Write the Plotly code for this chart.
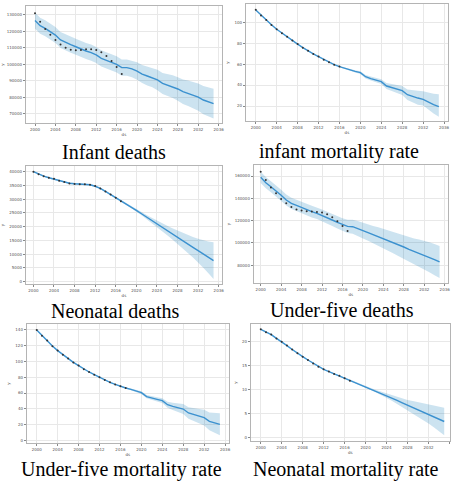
import plotly.graph_objects as go

# ---- data -------------------------------------------------------------
years = list(range(2000, 2036))
obs_years = list(range(2000, 2018))

infant_deaths_yhat = [126600, 123500, 121900, 119900, 117800, 114800, 113200, 112000, 110700, 109300,
                      108100, 107100, 105700, 103600, 102600, 101200, 100000, 98000, 98000, 97200,
                      95900, 94100, 92900, 91900, 90500, 88400, 87400, 86400, 85000, 83400,
                      82400, 81400, 80100, 78300, 77100, 76100]
infant_deaths_upper = [131500, 128400, 126800, 124800, 122700, 119700, 118100, 116900, 115600, 114200,
                       113000, 112000, 110600, 108500, 107500, 106100, 104900, 102900, 103000, 102300,
                       101200, 99600, 98600, 97800, 96700, 94800, 94100, 93300, 92200, 90800,
                       90200, 89400, 88400, 86800, 85900, 85100]
infant_deaths_lower = [121700, 118600, 117000, 115000, 112900, 109900, 108300, 107100, 105800, 104400,
                       103200, 102200, 100800, 98700, 97700, 96300, 95100, 93100, 93000, 92100,
                       90600, 88600, 87200, 86000, 84300, 82000, 80700, 79500, 77800, 75900,
                       74600, 73300, 71800, 69700, 68300, 67100]
infant_deaths_obs = [131000, 125900, 121500, 118000, 114800, 112000, 110100, 108900, 108500, 108700,
                     109100, 109100, 108700, 107300, 105100, 102000, 98400, 94100]

imr_yhat = [111.8, 106.8, 102.2, 97.6, 93.3, 89.6, 86.2, 82.6, 79.2, 75.8,
            72.6, 69.8, 67.2, 64.4, 61.8, 59.6, 57.6, 55.9, 54.4, 53.1,
            51.9, 48.0, 46.2, 44.7, 43.3, 39.1, 37.4, 36.0, 34.7, 30.8,
            29.0, 27.6, 26.3, 23.4, 21.3, 19.4]
imr_upper = [112.2, 107.2, 102.6, 98.0, 93.7, 90.0, 86.6, 83.0, 79.6, 76.2,
             73.0, 70.2, 67.6, 64.8, 62.2, 60.0, 58.1, 56.6, 55.3, 54.2,
             53.2, 49.6, 48.1, 46.8, 45.6, 41.9, 40.7, 39.8, 39.0, 35.8,
             34.9, 34.6, 34.2, 32.8, 31.8, 31.2]
imr_lower = [111.4, 106.4, 101.8, 97.2, 92.9, 89.2, 85.8, 82.2, 78.8, 75.4,
             72.2, 69.4, 66.8, 64.0, 61.4, 59.2, 57.1, 55.2, 53.5, 52.0,
             50.6, 46.4, 44.3, 42.6, 41.0, 36.3, 34.1, 32.2, 30.4, 25.8,
             23.3, 21.2, 20.5, 16.5, 12.8, 9.8]
imr_obs = [111.9, 106.6, 102.3, 97.5, 93.4, 89.5, 86.3, 82.5, 79.3, 75.7,
           72.7, 69.7, 67.3, 64.3, 61.9, 59.5, 57.7]

neo_deaths_yhat = [40000, 39100, 38400, 37800, 37300, 36700, 36200, 35800, 35600, 35500,
                   35450, 35250, 34700, 33900, 32800, 31700, 30500, 29300, 28100, 27000,
                   25900, 24700, 23450, 22250, 21000, 19800, 18600, 17350, 16150, 14950,
                   13700, 12500, 11300, 10050, 8850, 7650]
neo_deaths_upper = [40250, 39350, 38650, 38050, 37550, 36950, 36450, 36050, 35850, 35750,
                    35700, 35500, 34950, 34150, 33050, 31950, 30750, 29550, 28350, 27300,
                    26300, 25250, 24200, 23200, 22150, 21250, 20350, 19400, 18550, 17750,
                    16950, 16250, 15600, 15050, 14650, 14350]
neo_deaths_lower = [39750, 38850, 38150, 37550, 37050, 36450, 35950, 35550, 35350, 35250,
                    35200, 35000, 34450, 33650, 32550, 31450, 30250, 29050, 27850, 26700,
                    25500, 24150, 22700, 21300, 19850, 18350, 16850, 15300, 13750, 12150,
                    10450, 8750, 7000, 5050, 3050, 950]
neo_deaths_obs = [40000, 39100, 38300, 37800, 37400, 36700, 36200, 35700, 35500, 35400,
                  35400, 35200, 34800, 33900, 32800, 31700, 30500, 29200]

u5_deaths_yhat = [158800, 154000, 150400, 146900, 142700, 138500, 135500, 133700, 131600, 130100,
                  128100, 126600, 124800, 122700, 120600, 118500, 116700, 114900, 114600, 113100,
                  111000, 109300, 107500, 106000, 104200, 101800, 100000, 98200, 96400, 94300,
                  92500, 91000, 89300, 87200, 85100, 83000]
u5_deaths_upper = [163800, 159000, 155400, 151900, 147700, 143500, 140500, 138800, 136700, 135200,
                   133300, 131800, 130100, 128000, 126000, 123900, 122200, 120900, 120900, 119700,
                   118000, 116700, 115300, 114200, 112800, 110800, 109500, 108200, 106900, 105300,
                   104100, 103200, 102100, 100600, 99100, 97400]
u5_deaths_lower = [153800, 149000, 145400, 141900, 137700, 133500, 130500, 128600, 126500, 125000,
                   122900, 121400, 119500, 117400, 115200, 113000, 111200, 108900, 108300, 106500,
                   104000, 101900, 99700, 97800, 95600, 92800, 90500, 88200, 85900, 83300,
                   80900, 78800, 76500, 73800, 71100, 68600]
u5_deaths_obs = [163900, 156400, 149600, 144500, 139400, 135500, 132200, 130100, 129000, 128400,
                 128100, 127800, 127200, 125700, 123000, 119400, 115200, 110700]

u5mr_yhat = [140.0, 132.8, 126.5, 119.7, 113.8, 108.7, 103.6, 99.0, 94.7, 90.5,
             86.7, 83.3, 79.9, 76.5, 73.6, 71.0, 68.5, 66.4, 64.7, 62.6,
             60.5, 55.4, 53.3, 52.0, 50.3, 45.2, 43.1, 41.4, 39.7, 34.7,
             32.6, 30.4, 28.8, 24.1, 22.0, 20.3]
u5mr_upper = [140.5, 133.3, 127.0, 120.2, 114.3, 109.2, 104.1, 99.5, 95.2, 91.0,
              87.2, 83.8, 80.4, 77.0, 74.1, 71.5, 69.0, 67.2, 65.8, 64.0,
              62.2, 57.4, 55.6, 54.6, 53.3, 49.0, 47.7, 46.8, 46.0, 41.9,
              40.7, 39.4, 38.8, 35.3, 34.5, 34.3]
u5mr_lower = [139.5, 132.3, 126.0, 119.2, 113.3, 108.2, 103.1, 98.5, 94.2, 90.0,
              86.2, 82.8, 79.4, 76.0, 73.1, 70.5, 68.0, 65.6, 63.6, 61.2,
              58.8, 53.4, 51.0, 49.4, 47.3, 41.4, 38.5, 36.0, 33.4, 27.5,
              24.5, 21.4, 18.8, 12.9, 9.5, 6.3]
u5mr_obs = [140.1, 132.6, 126.6, 119.5, 113.9, 108.5, 103.7, 98.8, 94.8, 90.3,
            86.8, 83.1, 80.0, 76.4, 73.7, 70.8, 68.6, 66.3]

nmr_yhat = [22.5, 22.0, 21.4, 20.6, 19.9, 19.1, 18.3, 17.5, 16.8, 16.1,
            15.4, 14.7, 14.15, 13.7, 13.25, 12.75, 12.3, 11.85, 11.4, 10.95,
            10.5, 10.05, 9.6, 9.15, 8.7, 8.2, 7.7, 7.2, 6.7, 6.25,
            5.8, 5.35, 4.85, 4.3, 3.8, 3.3]
nmr_upper = [22.6, 22.1, 21.5, 20.7, 20.0, 19.2, 18.4, 17.6, 16.9, 16.2,
             15.5, 14.8, 14.25, 13.8, 13.35, 12.85, 12.4, 11.95, 11.5, 11.05,
             10.65, 10.25, 9.88, 9.51, 9.15, 8.8, 8.45, 8.12, 7.8, 7.55,
             7.3, 7.05, 6.8, 6.5, 6.3, 6.15]
nmr_lower = [22.4, 21.9, 21.3, 20.5, 19.8, 19.0, 18.2, 17.4, 16.7, 16.0,
             15.3, 14.6, 14.05, 13.6, 13.15, 12.65, 12.2, 11.75, 11.3, 10.85,
             10.35, 9.85, 9.32, 8.79, 8.25, 7.6, 6.95, 6.28, 5.6, 4.95,
             4.3, 3.65, 2.9, 2.1, 1.3, 0.45]
nmr_obs = [22.5, 21.9, 21.4, 20.6, 19.9, 19.1, 18.3, 17.5, 16.8, 16.1,
           15.4, 14.7, 14.2, 13.7, 13.2, 12.8, 12.3, 11.8]

titles = ["Infant deaths", "infant mortality rate", "Neonatal deaths",
          "Under-five deaths", "Under-five mortality rate", "Neonatal mortality rate"]
x_ticks = list(range(2000, 2037, 4))
y_ticks = [
    [70000, 80000, 90000, 100000, 110000, 120000, 130000],
    [20, 40, 60, 80, 100],
    [0, 5000, 10000, 15000, 20000, 25000, 30000, 35000, 40000],
    [80000, 100000, 120000, 140000, 160000],
    [0, 20, 40, 60, 80, 100, 120, 140],
    [0, 5, 10, 15, 20],
]

series = [
    (infant_deaths_yhat, infant_deaths_upper, infant_deaths_lower, infant_deaths_obs),
    (imr_yhat, imr_upper, imr_lower, imr_obs),
    (neo_deaths_yhat, neo_deaths_upper, neo_deaths_lower, neo_deaths_obs),
    (u5_deaths_yhat, u5_deaths_upper, u5_deaths_lower, u5_deaths_obs),
    (u5mr_yhat, u5mr_upper, u5mr_lower, u5mr_obs),
    (nmr_yhat, nmr_upper, nmr_lower, nmr_obs),
]

# ---- layout of the six panels (pixel boxes in a 452 x 481 canvas) -----
W, H = 452, 481
panels = [
    # left, right, top, bottom, x range, y range, title centre (x, y)
    dict(box=(24, 222, 6, 123), xr=(1998.19, 2036.66), yr=(64320, 135470), t=(113, 152)),
    dict(box=(246, 450, 4, 121), xr=(1998.1, 2036.76), yr=(5.66, 117.5), t=(340, 151)),
    dict(box=(24, 222, 166, 284), xr=(1998.52, 2036.65), yr=(-850, 42060), t=(114, 311)),
    dict(box=(254, 450, 165, 283), xr=(1998.64, 2036.65), yr=(64170, 169850), t=(343, 310)),
    dict(box=(25, 229, 324, 443), xr=(1998.1, 2036.74), yr=(-3.4, 147.6), t=(121, 469)),
    dict(box=(251, 452, 324, 441), xr=(1998.1, 2036.1), yr=(-0.76, 23.6), t=(347, 469)),
]

LINE = "#3b91cf"
BAND = "rgba(0,114,178,0.2)"
AXIS_COL = "#b4b4b4"
GRID_COL = "#e8e8e8"
TICK_FONT = dict(family="DejaVu Sans", size=4, color="#555555")

fig = go.Figure()
layout = dict(width=W, height=H, margin=dict(l=0, r=0, t=0, b=0),
              paper_bgcolor="white", plot_bgcolor="white", showlegend=False,
              annotations=[])

for i, (p, (yhat, up, lo, obs), title, yt) in enumerate(zip(panels, series, titles, y_ticks), start=1):
    xa, ya = f"x{i}", f"y{i}"
    fig.add_trace(go.Scatter(x=years, y=up, mode="lines", line=dict(width=0, color=BAND),
                             xaxis=xa, yaxis=ya, hoverinfo="skip"))
    fig.add_trace(go.Scatter(x=years, y=lo, mode="lines", line=dict(width=0, color=BAND),
                             fill="tonexty", fillcolor=BAND, xaxis=xa, yaxis=ya, hoverinfo="skip"))
    fig.add_trace(go.Scatter(x=years, y=yhat, mode="lines", line=dict(width=1.4, color=LINE),
                             xaxis=xa, yaxis=ya))
    fig.add_trace(go.Scatter(x=obs_years[:len(obs)], y=obs, mode="markers",
                             marker=dict(size=2, color="#333333"), xaxis=xa, yaxis=ya))

    l, r, t, b = p["box"]
    axis_common = dict(showgrid=True, gridcolor=GRID_COL, gridwidth=1, zeroline=False,
                       showline=True, mirror=True, linecolor=AXIS_COL, linewidth=1,
                       ticks="outside", ticklen=2, tickwidth=0.6, tickcolor="#888888",
                       tickfont=TICK_FONT)
    key = "" if i == 1 else str(i)
    layout[f"xaxis{key}"] = dict(axis_common, domain=[l / W, r / W], anchor=ya,
                                 range=list(p["xr"]), tickvals=x_ticks,
                                 ticktext=[str(v) for v in x_ticks],
                                 title=dict(text="ds", font=TICK_FONT, standoff=2))
    layout[f"yaxis{key}"] = dict(axis_common, domain=[1 - b / H, 1 - t / H], anchor=xa,
                                 range=list(p["yr"]), tickvals=yt,
                                 ticktext=[str(v) for v in yt],
                                 title=dict(text="y", font=TICK_FONT, standoff=4))
    tx, ty = p["t"]
    layout["annotations"].append(dict(
        text=title, x=tx / W, y=1 - ty / H, xref="paper", yref="paper",
        xanchor="center", yanchor="middle", showarrow=False,
        font=dict(family="Liberation Serif", size=20, color="black")))

fig.update_layout(**layout)
fig.write_html("out.html")
